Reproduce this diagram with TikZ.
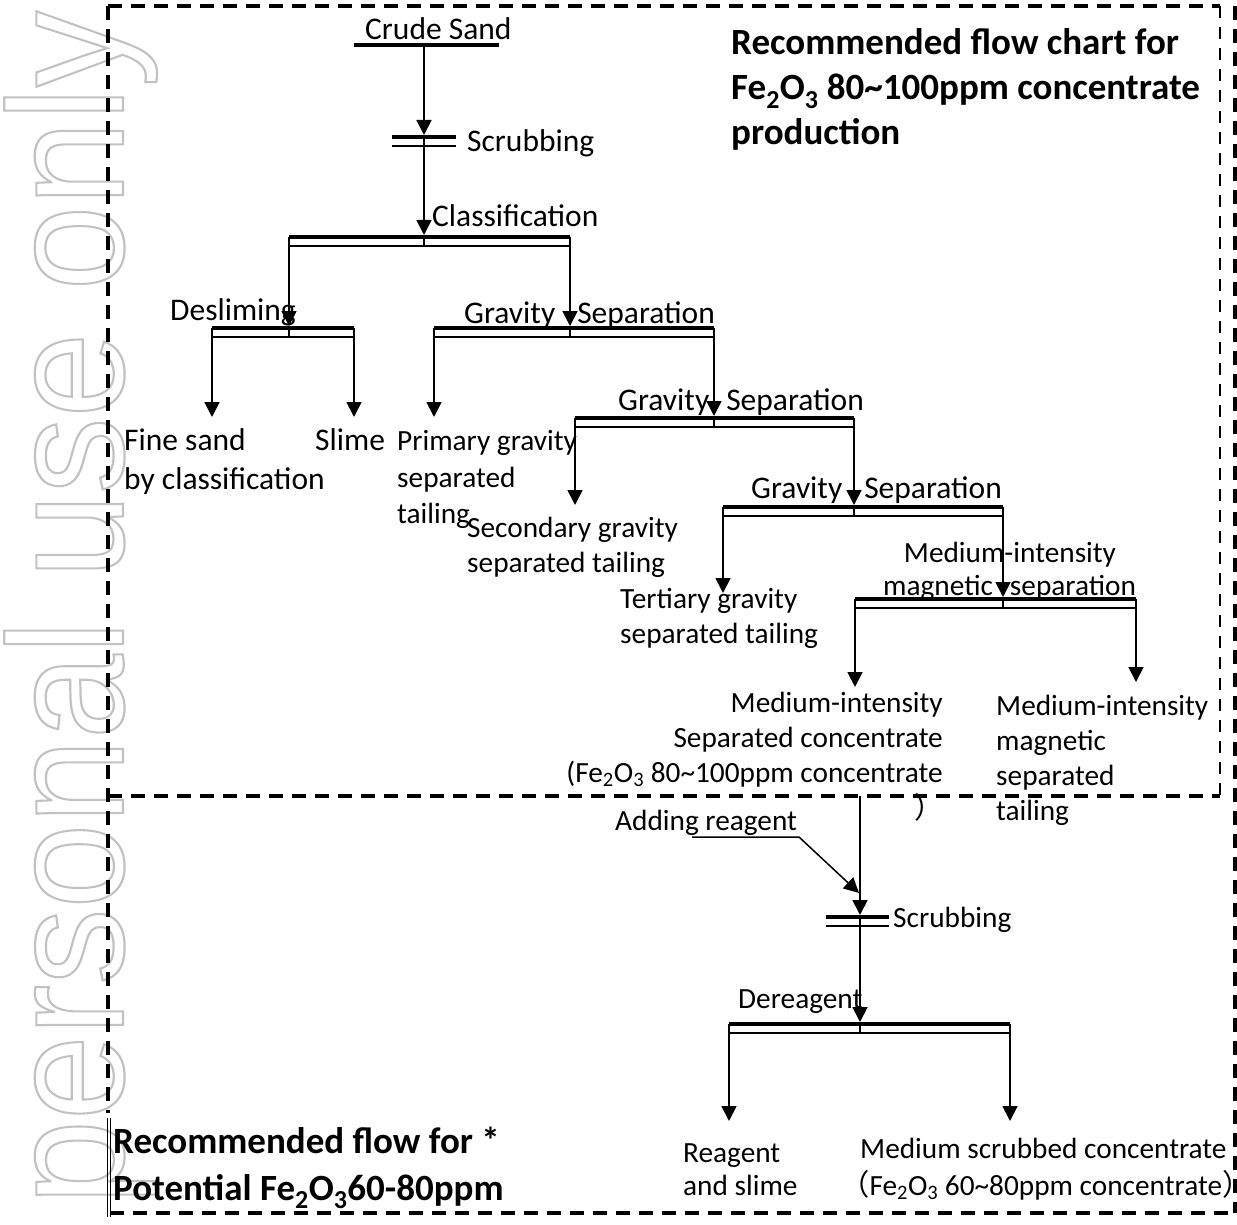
\documentclass[tikz,border=0pt]{standalone}
\usepackage{fontspec}
\setmainfont{Carlito}
\newfontfamily\cjk{Noto Sans CJK SC}
\newfontfamily\wmfont{Liberation Sans}
\usetikzlibrary{arrows.meta}
\newcommand\sbs[1]{\textsubscript{#1}}
\newcommand\tld{\textasciitilde}
\newcommand\wmtext[1]{\special{pdf:literal direct 1 Tr 2.2 w 0.76 G}#1\special{pdf:literal direct 0 Tr}}
\tikzset{
  lbl/.style={inner sep=0pt, font=\fontsize{31.5}{36}\selectfont},
  lblb/.style={inner sep=0pt, font=\fontsize{29.3}{35}\selectfont},
  hdr/.style={inner sep=0pt, font=\fontsize{37}{46}\selectfont\bfseries},
  wm/.style={inner sep=0pt, font=\wmfont\fontsize{164}{164}\selectfont},
  flow/.style={line width=1.8pt, -{Triangle[length=15pt,width=15pt]}},
  flowbar/.style={flow, shorten >=2pt},
  barthick/.style={line width=4pt},
  barthin/.style={line width=1.4pt},
  dashframe/.style={line width=3.5pt, dash pattern=on 14pt off 9pt},
}
\newcommand\sepbar[5]{%
  \coordinate (#1-l) at (#2,#5);
  \coordinate (#1-r) at (#3,#5);
  \coordinate (#1-c) at (#4,#5);
  \coordinate (#1-lb) at (#2,#5+9);
  \coordinate (#1-rb) at (#3,#5+9);
  \coordinate (#1-cb) at (#4,#5+9);
  \draw[barthick] (#1-l) -- (#1-r);
  \draw[barthin] (#1-lb) -- (#1-rb);
  \draw[barthin] (#1-c) -- (#1-cb);
}
\begin{document}
\begin{tikzpicture}[x=1pt,y=-1pt]
\fill[white] (0,0) rectangle (1237,1225);
\useasboundingbox (0,0) rectangle (1237,1225);

% watermark
\node[wm, rotate=90, anchor=base west] (wmark) at (123,1205) {\scalebox{0.929}[1]{\wmtext{personal use only}}};

% frames
\coordinate (fTL) at (108,6);
\coordinate (fTR) at (1220,6);
\coordinate (fBR) at (1220,796);
\coordinate (fBL) at (108,796);
\coordinate (oTR) at (1235,6);
\coordinate (oBR) at (1235,1213);
\coordinate (oBL) at (110,1213);
\coordinate (oL1) at (108,1113);
\coordinate (dl1) at (107,1118);
\coordinate (dl2) at (107,1217);
\coordinate (dl3) at (110.5,1118);
\coordinate (dl4) at (110.5,1217);
\draw[dashframe] (fTL) -- (fTR);
\draw[dashframe, line width=2.8pt, dash pattern=on 12pt off 9pt] (fTR) -- (fBR);
\draw[dashframe] (fBL) -- (fBR);
\draw[dashframe] (fTL) -- (oL1);
\draw[line width=0.9pt] (dl1) -- (dl2) (dl3) -- (dl4);
\draw[dashframe, line width=5pt] (oTR) -- (oBR);
\draw[dashframe] (oBL) -- (oBR);

% bars
\coordinate (csl) at (354,45);
\coordinate (csr) at (499,45);
\coordinate (cs) at (424,45);
\draw[barthick] (csl) -- (csr);
\sepbar{s1}{392}{456}{424}{137}
\sepbar{cl}{289}{570}{424}{237}
\sepbar{de}{212}{354}{289}{328}
\sepbar{g1}{434}{714}{570}{328}
\sepbar{g2}{575}{854}{714}{418}
\sepbar{g3}{723}{1003}{854}{507}
\sepbar{mg}{855}{1136}{1003}{599}
\sepbar{s2}{826}{889}{860}{917}
\sepbar{dr}{729}{1010}{860}{1024}

% output points
\coordinate (o-fine) at (212,417);
\coordinate (o-slime) at (354,417);
\coordinate (o-prim) at (434,417);
\coordinate (o-sec) at (575,505);
\coordinate (o-ter) at (723,593);
\coordinate (o-conc) at (855,687);
\coordinate (o-tail) at (1136,682);
\coordinate (o-rs) at (729,1121);
\coordinate (o-msc) at (1010,1121);
\coordinate (c80) at (860,796);
\coordinate (ar1) at (692,837);
\coordinate (ar2) at (799,837);
\coordinate (ar3) at (859,893);

% connectors
\draw[flowbar] (cs) -- (s1-c);
\draw[flowbar] (s1-cb) -- (cl-c);
\draw[flowbar] (cl-l) -- (de-c);
\draw[flowbar] (cl-r) -- (g1-c);
\draw[flow] (de-l) -- (o-fine);
\draw[flow] (de-r) -- (o-slime);
\draw[flow] (g1-l) -- (o-prim);
\draw[flowbar] (g1-r) -- (g2-c);
\draw[flow] (g2-l) -- (o-sec);
\draw[flowbar] (g2-r) -- (g3-c);
\draw[flow] (g3-l) -- (o-ter);
\draw[flowbar] (g3-r) -- (mg-c);
\draw[flow] (mg-l) -- (o-conc);
\draw[flow] (mg-r) -- (o-tail);
\draw[flowbar] (c80) -- (s2-c);
\draw[flow, line width=1.5pt] (ar1) -- (ar2) -- (ar3);
\draw[flowbar] (s2-cb) -- (dr-c);
\draw[flow] (dr-l) -- (o-rs);
\draw[flow] (dr-r) -- (o-msc);

% labels
\node[lbl, anchor=base west] (crude) at (365,40) {Crude Sand};
\node[lbl, anchor=base west] (scrub1) at (467,152) {Scrubbing};
\node[lbl, anchor=base west] (class) at (432,227) {Classification};
\node[lbl, anchor=base west] (deslim) at (170,320) {Desliming};
\node[lbl, anchor=base west] (grav1) at (464,323) {Gravity\hspace{22pt}Separation};
\node[lbl, anchor=base west] (grav2) at (618,410) {Gravity\hspace{17pt}Separation};
\node[lbl, anchor=base west] (grav3) at (751,498) {Gravity\hspace{22pt}Separation};
\node[lbl, anchor=base west] (fine1) at (124,450) {Fine sand};
\node[lbl, anchor=base west] (fine2) at (124,489) {by classification};
\node[lbl, anchor=base west] (slime) at (315,450) {Slime};
\node[lblb, anchor=base west] (prim1) at (397,450) {Primary gravity};
\node[lblb, anchor=base west] (prim2) at (397,487) {separated};
\node[lblb, anchor=base west] (prim3) at (397,523) {tailing};
\node[lblb, anchor=base west] (sec1) at (467,537) {Secondary gravity};
\node[lblb, anchor=base west] (sec2) at (467,572) {separated tailing};
\node[lblb, anchor=base west] (ter1) at (620,608) {Tertiary gravity};
\node[lblb, anchor=base west] (ter2) at (620,643) {separated tailing};
\node[lblb, anchor=base] (mag1) at (1010,562) {Medium-intensity};
\node[lblb, anchor=base west] (mag2) at (883,595) {magnetic\hspace{17pt}separation};
\node[lblb, anchor=base east] (conc1) at (943,712) {Medium-intensity};
\node[lblb, anchor=base east] (conc2) at (943,747) {Separated concentrate};
\node[lblb, anchor=base east] (conc3) at (943,782) {(Fe\sbs{2}O\sbs{3} 80\tld100ppm concentrate};
\node[lblb, anchor=base west] (conc4) at (914,818) {\cjk ）};
\node[lblb, anchor=base west] (tail1) at (996,715) {Medium-intensity};
\node[lblb, anchor=base west] (tail2) at (996,750) {magnetic};
\node[lblb, anchor=base west] (tail3) at (996,785) {separated};
\node[lblb, anchor=base west] (tail4) at (996,820) {tailing};
\node[lblb, anchor=base west] (reag) at (615,830) {Adding reagent};
\node[lblb, anchor=base west] (scrub2) at (893,927) {Scrubbing};
\node[lblb, anchor=base west] (derea) at (738,1008) {Dereagent};
\node[lblb, anchor=base west] (rs1) at (683,1162) {Reagent};
\node[lblb, anchor=base west] (rs2) at (683,1195) {and slime};
\node[lblb, anchor=base west] (msc1) at (860,1158) {Medium scrubbed concentrate};
\node[lblb, anchor=base west] (msc2) at (840,1195) {{\cjk （}Fe\sbs{2}O\sbs{3} 60\tld80ppm concentrate{\cjk ）}};
\node[hdr, anchor=base west] (hd1) at (731,55) {Recommended flow chart for};
\node[hdr, anchor=base west] (hd2) at (731,100) {Fe\sbs{2}O\sbs{3} 80\tld100ppm concentrate};
\node[hdr, anchor=base west] (hd3) at (731,145) {production};
\node[hdr, anchor=base west] (pot1) at (113,1153) {Recommended flow for *};
\node[hdr, anchor=base west] (pot2) at (113,1200) {Potential Fe\sbs{2}O\sbs{3}60-80ppm};
\end{tikzpicture}
\end{document}
